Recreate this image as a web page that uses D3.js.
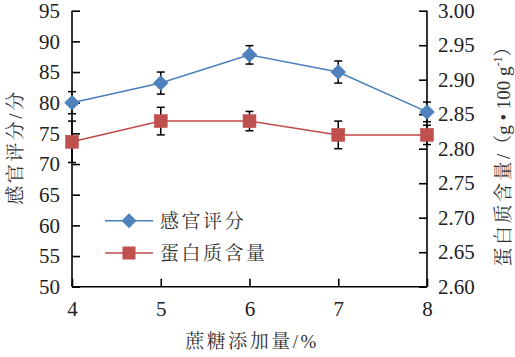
<!DOCTYPE html>
<html><head><meta charset="utf-8">
<script src="https://cdn.jsdelivr.net/npm/d3@7"></script>
<style>body{margin:0;background:#fff}svg{display:block}</style>
</head><body>
<svg id="c" width="515" height="357"></svg>
<script>
const sucrose = [4, 5, 6, 7, 8];
const sensory = [80.0, 83.2, 87.8, 85.0, 78.5];
const sensoryErr = [1.8, 1.8, 1.5, 1.8, 1.6];
const protein = [2.81, 2.84, 2.84, 2.82, 2.82];
const proteinErr = [0.03, 0.02, 0.014, 0.02, 0.014];
const leftTicks = [50, 55, 60, 65, 70, 75, 80, 85, 90, 95];
const rightTicks = [2.60, 2.65, 2.70, 2.75, 2.80, 2.85, 2.90, 2.95, 3.00];
const xTicks = [4, 5, 6, 7, 8];
const names = ["感官评分", "蛋白质含量"];
const xTitle = ["蔗糖添加量", "/%"];
const yTitleL = ["感官评分", "/", "分"];
const colors = {blue: "#4a7ebb", blueFill: "#4f81bd", red: "#be4b48", redFill: "#c0504d"};

const NUM = '"Liberation Serif"';
const CJK = '"Noto Serif CJK SC"';
const svg = d3.select("#c");
const L = 72, R = 427, T = 10.7, B = 286.7;
const x = d3.scaleLinear().domain([4, 8]).range([L, R]);
const yL = d3.scaleLinear().domain([50, 95]).range([B, T]);
const yR = d3.scaleLinear().domain([2.60, 3.00]).range([B, T]);

// axes
const axL = d3.axisLeft(yL).tickValues(leftTicks).tickSize(-8).tickPadding(12).tickFormat(d3.format("d"));
const axR = d3.axisRight(yR).tickValues(rightTicks).tickSize(-8).tickPadding(11).tickFormat(d3.format(".2f"));
const axB = d3.axisBottom(x).tickValues(xTicks).tickSize(-8).tickPadding(14).tickFormat(d3.format("d"));
function style(g){
  g.attr("font-family", null).attr("font-size", null);
  g.select(".domain").attr("stroke","#000").attr("stroke-width",1.6);
  g.selectAll(".tick line").attr("stroke","#000").attr("stroke-width",1.6);
  g.selectAll(".tick text").style("font-family",NUM).style("font-size","21px").attr("fill","#222");
}
svg.append("g").attr("transform",`translate(${L},0)`).call(axL).call(style).call(g=>g.select(".domain").attr("d",`M0,${T}V${B}`));
svg.append("g").attr("transform",`translate(${R},0)`).call(axR).call(style).call(g=>g.select(".domain").attr("d",`M0,${T}V${B}`));
svg.append("g").attr("transform",`translate(0,${B})`).call(axB).call(style).call(g=>g.select(".domain").attr("d",`M${L},0H${R}`))
  .selectAll(".tick text").attr("dy","0.71em");

// lines
const lineL = d3.line().x((d,i)=>x(sucrose[i])).y(d=>yL(d));
const lineR = d3.line().x((d,i)=>x(sucrose[i])).y(d=>yR(d));
svg.append("path").attr("d",lineR(protein)).attr("fill","none").attr("stroke",colors.red).attr("stroke-width",1.5);
svg.append("path").attr("d",lineL(sensory)).attr("fill","none").attr("stroke",colors.blue).attr("stroke-width",1.5);

// error bars
function errBars(vals, errs, y){
  const g = svg.append("g").attr("stroke","#000").attr("stroke-width",1.5);
  vals.forEach((v,i)=>{
    const cx = x(sucrose[i]), y1 = y(v+errs[i]), y2 = y(v-errs[i]);
    g.append("line").attr("x1",cx).attr("x2",cx).attr("y1",y1).attr("y2",y2);
    g.append("line").attr("x1",cx-4).attr("x2",cx+4).attr("y1",y1).attr("y2",y1);
    g.append("line").attr("x1",cx-4).attr("x2",cx+4).attr("y1",y2).attr("y2",y2);
  });
}
errBars(protein, proteinErr, yR);
errBars(sensory, sensoryErr, yL);

// markers
const diamond = "M0,-7.5L7.5,0L0,7.5L-7.5,0Z";
svg.append("g").selectAll("rect").data(protein).join("rect")
  .attr("x",(d,i)=>x(sucrose[i])-6.5).attr("y",d=>yR(d)-6.5).attr("width",13).attr("height",13)
  .attr("fill",colors.redFill).attr("stroke",colors.red).attr("stroke-width",0.5);
svg.append("g").selectAll("path").data(sensory).join("path")
  .attr("d",diamond).attr("transform",(d,i)=>`translate(${x(sucrose[i])},${yL(d)})`)
  .attr("fill",colors.blueFill).attr("stroke",colors.blue).attr("stroke-width",0.5);

// legend
const lg = svg.append("g");
[0,1].forEach(i=>{
  const ly = i===0 ? 220.7 : 253;
  lg.append("line").attr("x1",105).attr("x2",153).attr("y1",ly).attr("y2",ly)
    .attr("stroke", i===0?colors.blue:colors.red).attr("stroke-width",1.5);
  if(i===0) lg.append("path").attr("d",diamond).attr("transform",`translate(129,${ly})`).attr("fill",colors.blueFill);
  else lg.append("rect").attr("x",129-6.5).attr("y",ly-6.5).attr("width",13).attr("height",13).attr("fill",colors.redFill);
  lg.append("text").attr("x",160).attr("y",ly).attr("dy","0.38em").text(names[i])
    .style("font-family",CJK).style("font-size","19px").style("letter-spacing","2.5px").attr("fill","#333");
});

// titles
const xt = svg.append("text").attr("x",252).attr("y",348).attr("text-anchor","middle").attr("fill","#333").style("letter-spacing","2.5px");
xt.append("tspan").style("font-family",CJK).style("font-size","19px").text(xTitle[0]);
xt.append("tspan").style("font-family",NUM).style("font-size","19px").text(xTitle[1]);

const lt = svg.append("text").attr("transform","translate(22,147) rotate(-90)").attr("text-anchor","middle").attr("fill","#333").style("letter-spacing","2.5px");
lt.append("tspan").style("font-family",CJK).style("font-size","19px").text(yTitleL[0]);
lt.append("tspan").style("font-family",NUM).style("font-size","19px").text(yTitleL[1]);
lt.append("tspan").style("font-family",CJK).style("font-size","19px").text(yTitleL[2]);

const rt = svg.append("text").attr("transform","translate(510,152) rotate(-90)").attr("text-anchor","middle").attr("fill","#333");
rt.append("tspan").style("font-family",CJK).style("font-size","19px").style("letter-spacing","2.5px").text("蛋白质含量");
rt.append("tspan").style("font-family",NUM).style("font-size","19px").text("/");
rt.append("tspan").style("font-family",CJK).style("font-size","19px").text("（");
rt.append("tspan").style("font-family",NUM).style("font-size","19px").text("g • 100 g");
rt.append("tspan").style("font-family",NUM).style("font-size","12px").attr("dy","-8").text("-1");
rt.append("tspan").style("font-family",CJK).style("font-size","19px").attr("dy","8").text("）");
</script>
</body></html>
